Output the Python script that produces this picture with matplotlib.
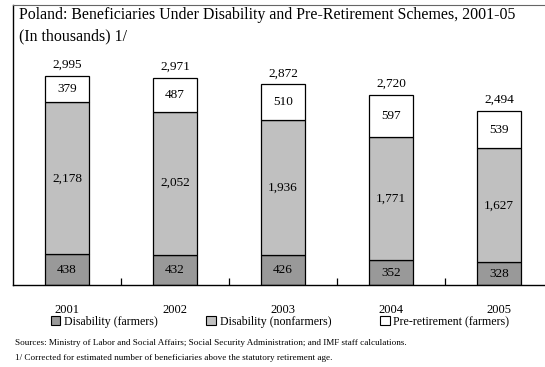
import matplotlib.pyplot as plt
from matplotlib.patches import Patch

plt.rcParams['font.family'] = ['Liberation Serif', 'DejaVu Serif']

# Beneficiaries, thousands
years = ['2001', '2002', '2003', '2004', '2005']
farmers = [438, 432, 426, 352, 328]
nonfarmers = [2178, 2052, 1936, 1771, 1627]
preretire = [379, 487, 510, 597, 539]
totals = [2995, 2971, 2872, 2720, 2494]

series_names = ['Disability (farmers)', 'Disability (nonfarmers)', 'Pre-retirement (farmers)']
colors = ['#999999', '#c0c0c0', '#ffffff']

W, H = 545, 367
fig = plt.figure(figsize=(W / 100, H / 100), dpi=100)
# plot frame runs a little past the right edge of the image
ax = fig.add_axes([13 / W, (H - 285) / H, 540 / W, 280 / H])

x = list(range(len(years)))
width = 0.41
bottoms = [0] * len(years)
for vals, col in zip([farmers, nonfarmers, preretire], colors):
    ax.bar(x, vals, width, bottom=bottoms, color=col, edgecolor='black', linewidth=0.9, zorder=2)
    for i, v in enumerate(vals):
        ax.text(x[i], bottoms[i] + v / 2, f'{v:,}', ha='center', va='center', fontsize=9.5)
    bottoms = [b + v for b, v in zip(bottoms, vals)]

for i, t in enumerate(totals):
    ax.text(x[i], t + 70, f'{t:,}', ha='center', va='bottom', fontsize=9.5)

ax.set_xlim(-0.5, 4.5)
ax.set_ylim(0, 4010)
ax.set_yticks([])
ax.set_xticks(x)
ax.set_xticklabels(years, fontsize=9)
ax.tick_params(axis='x', which='major', length=0, pad=14)
ax.set_xticks([0.5, 1.5, 2.5, 3.5], minor=True)
ax.tick_params(axis='x', which='minor', direction='in', length=5, width=0.9)
ax.spines['right'].set_visible(False)
ax.spines['top'].set_color('#666666')
for s in ['left', 'bottom']:
    ax.spines[s].set_linewidth(1.0)

ax.text(6 / 540, 1 - 10 / 280, 'Poland: Beneficiaries Under Disability and Pre-Retirement Schemes, 2001-05',
        transform=ax.transAxes, ha='left', va='center', fontsize=11.4)
ax.text(6 / 540, 1 - 31 / 280, '(In thousands) 1/',
        transform=ax.transAxes, ha='left', va='center', fontsize=11.4)

handles = [Patch(facecolor=c, edgecolor='black', linewidth=0.8) for c in colors]
fig.legend(handles, series_names, loc='center', bbox_to_anchor=(280 / W, 1 - 322 / H), ncol=3,
           frameon=False, fontsize=8.6, handlelength=0.8, handleheight=0.8, handletextpad=0.3,
           columnspacing=4.1, borderpad=0)

fig.text(15 / W, 1 - 343 / H,
         'Sources: Ministry of Labor and Social Affairs; Social Security Administration; and IMF staff calculations.',
         ha='left', va='center', fontsize=6.6)
fig.text(15 / W, 1 - 358 / H,
         '1/ Corrected for estimated number of beneficiaries above the statutory retirement age.',
         ha='left', va='center', fontsize=6.6)

fig.savefig('out.png', dpi=100)
